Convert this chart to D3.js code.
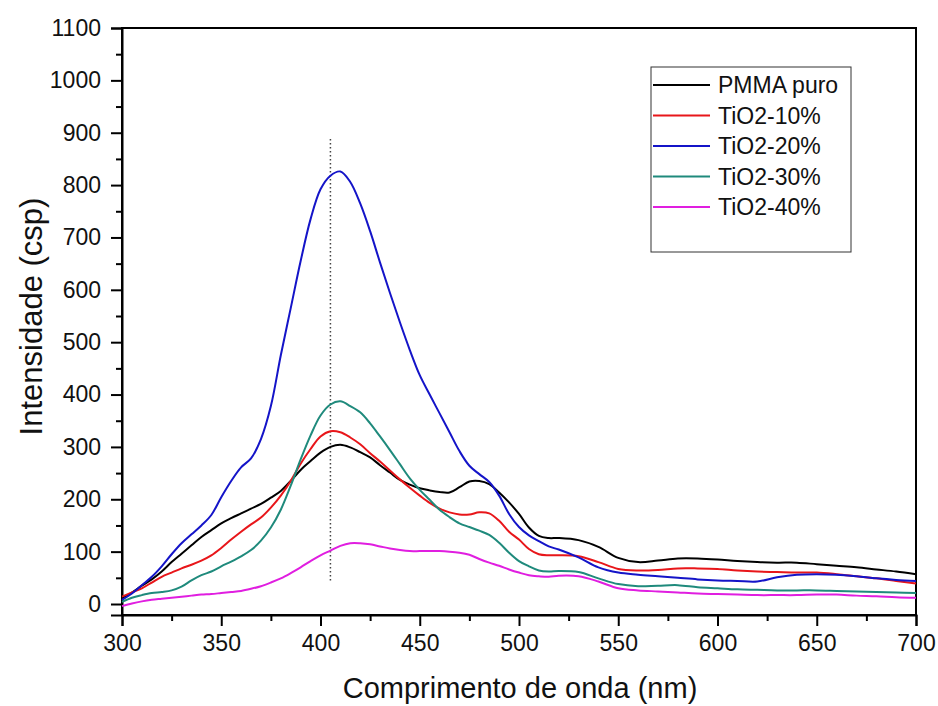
<!DOCTYPE html>
<html>
<head>
<meta charset="utf-8">
<script src="https://cdn.jsdelivr.net/npm/d3@7"></script>
<style>
  body { margin: 0; background: #fff; }
  text { font-family: Arial, "Liberation Sans", sans-serif; }
</style>
</head>
<body>
<div id="chart"></div>
<script>
const wavelength = [300, 305, 310, 315, 320, 325, 330, 335, 340, 345, 350, 355, 360, 365, 370, 375,
  380, 385, 390, 395, 400, 405, 410, 415, 420, 425, 430, 435, 440, 445, 450, 455, 460, 465, 470,
  475, 480, 485, 490, 495, 500, 505, 510, 515, 520, 530, 540, 550, 560, 570, 580, 590, 600, 610,
  620, 630, 640, 650, 660, 670, 680, 690, 700];

const pmmaPuro = [11, 22, 35, 47, 62, 80, 96, 112, 128, 141, 154, 164, 173, 182, 191, 203,
  216, 235, 256, 273, 289, 300, 304, 299, 290, 280, 265, 251, 237, 228, 221, 217, 214, 213, 223,
  234, 235, 229, 213, 194, 172, 146, 130, 126, 126, 122, 109, 88, 80, 83, 87, 87, 85, 82,
  80, 79, 79, 76, 73, 70, 66, 62, 57];

const tio2_10 = [14, 22, 30, 41, 52, 60, 68, 75, 83, 93, 107, 123, 138, 152, 165, 184,
  207, 235, 268, 296, 320, 330, 328, 318, 305, 288, 272, 255, 238, 222, 207, 193, 182, 175, 171,
  171, 175, 173, 159, 138, 123, 105, 95, 93, 93, 91, 80, 67, 64, 65, 68, 68, 67, 64,
  62, 61, 60, 60, 57, 53, 49, 44, 39];

const tio2_20 = [8, 20, 36, 52, 72, 95, 116, 133, 150, 170, 204, 235, 261, 278, 315, 378,
  475, 565, 655, 735, 792, 818, 826, 806, 765, 712, 652, 594, 538, 485, 437, 400, 364, 328, 292,
  264, 248, 233, 207, 172, 147, 131, 120, 110, 104, 89, 70, 60, 56, 53, 50, 47, 45, 44,
  43, 51, 56, 57, 56, 53, 49, 46, 44];

const tio2_30 = [4, 12, 17, 21, 23, 26, 33, 45, 55, 62, 72, 81, 91, 103, 121, 146,
  180, 226, 276, 322, 360, 381, 387, 378, 366, 345, 320, 294, 267, 240, 218, 199, 180, 166, 154,
  147, 140, 132, 117, 98, 82, 72, 64, 62, 63, 61, 49, 38, 34, 35, 36, 32, 30, 28,
  27, 26, 26, 26, 25, 24, 23, 22, 21];

const tio2_40 = [-4, 1, 5, 8, 10, 12, 14, 16, 18, 19, 21, 23, 25, 29, 34, 41,
  49, 59, 70, 82, 93, 102, 111, 116, 116, 114, 110, 106, 103, 101, 101, 101, 101, 100, 98,
  94, 86, 79, 73, 66, 60, 55, 53, 52, 54, 53, 43, 30, 26, 24, 22, 20, 19, 18,
  17, 17, 17, 18, 18, 16, 15, 13, 12];

const seriesNames = ['PMMA puro', 'TiO2-10%', 'TiO2-20%', 'TiO2-30%', 'TiO2-40%'];
const seriesValues = [pmmaPuro, tio2_10, tio2_20, tio2_30, tio2_40];
const seriesColors = ['#000000', '#e8161a', '#1414c8', '#1f8a7c', '#e01ee0'];

const xTicks = [300, 350, 400, 450, 500, 550, 600, 650, 700];
const xMinorTicks = [325, 375, 425, 475, 525, 575, 625, 675];
const yTicks = [0, 100, 200, 300, 400, 500, 600, 700, 800, 900, 1000, 1100];
const yMinorTicks = [50, 150, 250, 350, 450, 550, 650, 750, 850, 950, 1050];

const markerX = 405;
const markerRange = [45, 890];

const width = 938;
const height = 706;
const margin = { top: 28, right: 22, bottom: 91, left: 122 };

const svg = d3.select('#chart')
  .append('svg')
  .attr('width', width)
  .attr('height', height);

const x = d3.scaleLinear()
  .domain([300, 700])
  .range([margin.left, width - margin.right]);

const y = d3.scaleLinear()
  .domain([-21, 1100])
  .range([height - margin.bottom, margin.top]);

// frame
svg.append('rect')
  .attr('x', margin.left)
  .attr('y', margin.top)
  .attr('width', width - margin.right - margin.left)
  .attr('height', height - margin.bottom - margin.top)
  .attr('fill', 'none')
  .attr('stroke', '#000')
  .attr('stroke-width', 2);

// axes
const xAxis = svg.append('g')
  .attr('transform', `translate(0, ${height - margin.bottom})`)
  .call(d3.axisBottom(x).tickValues(xTicks).tickSize(11).tickPadding(9)
    .tickFormat(d3.format('d')));
svg.append('g')
  .attr('transform', `translate(0, ${height - margin.bottom})`)
  .call(d3.axisBottom(x).tickValues(xMinorTicks).tickSize(6).tickFormat(''))
  .call((g) => g.select('.domain').remove());

const yAxis = svg.append('g')
  .attr('transform', `translate(${margin.left}, 0)`)
  .call(d3.axisLeft(y).tickValues(yTicks).tickSize(11).tickPadding(10)
    .tickFormat(d3.format('d')));
svg.append('g')
  .attr('transform', `translate(${margin.left}, 0)`)
  .call(d3.axisLeft(y).tickValues(yMinorTicks).tickSize(6).tickFormat(''))
  .call((g) => g.select('.domain').remove());

svg.selectAll('.domain').attr('stroke-width', 2);
svg.selectAll('.tick line').attr('stroke-width', 2);
[xAxis, yAxis].forEach((g) => {
  g.selectAll('text')
    .style('font-size', '23px')
    .style('font-family', 'Arial, "Liberation Sans", sans-serif')
    .attr('fill', '#111');
});

// dotted marker
svg.append('line')
  .attr('x1', x(markerX))
  .attr('x2', x(markerX))
  .attr('y1', y(markerRange[0]))
  .attr('y2', y(markerRange[1]))
  .attr('stroke', '#444')
  .attr('stroke-width', 1.5)
  .attr('stroke-dasharray', '1.5,2.5');

// curves
const line = d3.line()
  .x((d, i) => x(wavelength[i]))
  .y((d) => y(d))
  .curve(d3.curveCatmullRom.alpha(0.5));

svg.selectAll('.series')
  .data(seriesValues)
  .enter()
  .append('path')
  .attr('class', 'series')
  .attr('d', line)
  .attr('fill', 'none')
  .attr('stroke', (d, i) => seriesColors[i])
  .attr('stroke-width', 2);

// titles
svg.append('text')
  .attr('x', 520)
  .attr('y', 698)
  .attr('text-anchor', 'middle')
  .style('font-size', '29px')
  .attr('fill', '#111')
  .text('Comprimento de onda (nm)');

svg.append('text')
  .attr('transform', `translate(42, ${(margin.top + height - margin.bottom) / 2 - 5}) rotate(-90)`)
  .attr('text-anchor', 'middle')
  .style('font-size', '31px')
  .attr('fill', '#111')
  .text('Intensidade (csp)');

// legend
const legend = svg.append('g')
  .attr('transform', 'translate(651, 67)');

legend.append('rect')
  .attr('width', 200)
  .attr('height', 185)
  .attr('fill', '#fff')
  .attr('stroke', '#333')
  .attr('stroke-width', 1);

seriesNames.forEach((name, i) => {
  const rowY = 18 + i * 30.5;
  legend.append('line')
    .attr('x1', 2)
    .attr('x2', 59)
    .attr('y1', rowY)
    .attr('y2', rowY)
    .attr('stroke', seriesColors[i])
    .attr('stroke-width', 2);
  legend.append('text')
    .attr('x', 67)
    .attr('y', rowY + 8)
    .style('font-size', '23px')
    .attr('fill', '#111')
    .text(name);
});
</script>
</body>
</html>
